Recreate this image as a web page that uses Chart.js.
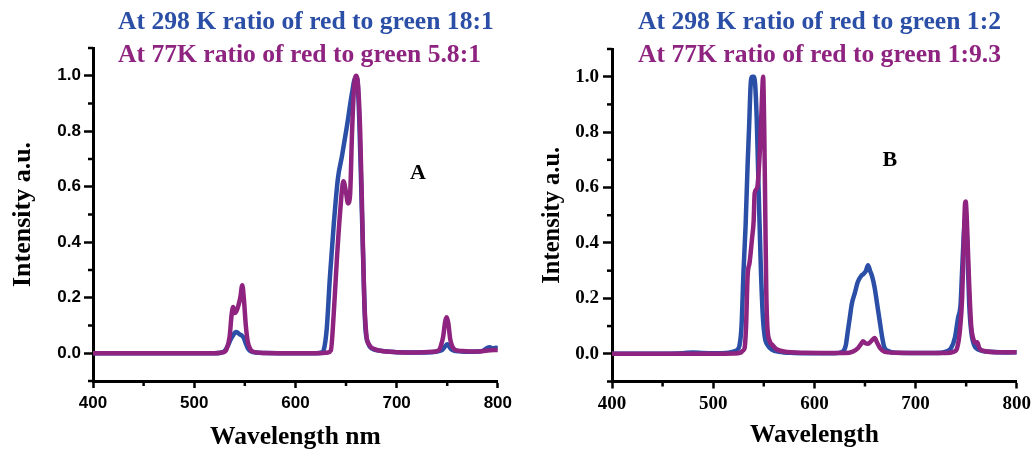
<!DOCTYPE html>
<html><head><meta charset="utf-8">
<script src="https://cdn.jsdelivr.net/npm/chart.js@4.4.1/dist/chart.umd.min.js"></script>
<style>
html,body{margin:0;padding:0;background:#fff;width:1035px;height:452px;overflow:hidden}
#wrapA{position:absolute;left:0;top:0;width:517px;height:452px}
#wrapB{position:absolute;left:517px;top:0;width:518px;height:452px}
</style></head><body>
<div id="wrapA"><canvas id="cA" width="517" height="452"></canvas></div>
<div id="wrapB"><canvas id="cB" width="518" height="452"></canvas></div>
<script>
// ---------- DATA ----------
const xMajorTicks = [400, 500, 600, 700, 800];
const xMinorTicks = [450, 550, 650, 750];
const yMajorTicks = [0, 0.2, 0.4, 0.6, 0.8, 1.0];
const yMinorTicks = [-0.1, 0.1, 0.3, 0.5, 0.7, 0.9, 1.1];

const titleA298 = "At 298 K ratio of red to green 18:1";
const titleA77  = "At 77K ratio of red to green 5.8:1";
const titleB298 = "At 298 K ratio of red to green 1:2";
const titleB77  = "At 77K ratio of red to green 1:9.3";
const xTitleA = "Wavelength nm";
const xTitleB = "Wavelength";
const yTitle = "Intensity a.u.";

// Panel A, 298 K (blue)
const wlA298 = [400,450,500,520,526,530,533,536,539,541,543,545,547,549,551,553,556,560,570,600,620,626,628,631,634,638,642,646,651,656,659,661,663,665,667,669,672,676,682,690,700,720,735,742,745,748,750,752,754,757,762,770,780,786,789,792,795,798,800];
const intA298 = [0,0,0,0,0.002,0.008,0.025,0.05,0.068,0.077,0.074,0.068,0.064,0.055,0.035,0.018,0.007,0.003,0.001,0,0,0.003,0.012,0.09,0.27,0.47,0.63,0.71,0.82,0.94,0.99,0.99,0.85,0.6,0.33,0.1,0.035,0.016,0.01,0.006,0.004,0.003,0.004,0.008,0.012,0.025,0.032,0.024,0.014,0.009,0.007,0.005,0.006,0.01,0.018,0.022,0.017,0.02,0.019];
// Panel A, 77 K (purple)
const wlA77 = [400,450,500,520,528,532,535,537,538.5,540,541.5,543.5,545.5,547.5,549,551,553,556,560,570,600,625,632,635,638,641,644,647.5,650,652,654,656,658,660,662,664,666,668,670,673,678,690,700,720,735,742,744,746,748,749.5,751,753,755,758,765,780,790,800];
const intA77 = [0,0,0,0,0.003,0.015,0.06,0.14,0.167,0.145,0.15,0.17,0.2,0.245,0.2,0.1,0.04,0.012,0.004,0.001,0,0,0.003,0.01,0.15,0.34,0.5,0.62,0.58,0.54,0.57,0.8,0.96,1.0,0.96,0.8,0.5,0.2,0.07,0.03,0.015,0.006,0.004,0.003,0.005,0.012,0.03,0.06,0.115,0.13,0.11,0.05,0.025,0.012,0.008,0.006,0.01,0.012];
// Panel B, 298 K (blue)
const wlB298 = [400,440,470,480,490,500,515,520,524,526,528,530,532,534,535.5,537,538.5,540,541.5,543,545,547,549,551,554,558,565,580,600,620,628,631,633,635,637,640,643,646,649,651,653,655,657,659.5,662,664.5,667,669,673,680,700,720,730,735,739,742,744.5,746,748,749.5,751,753,755,758,762,770,790,800];
const intB298 = [0,0,0.002,0.005,0.003,0.002,0.004,0.008,0.015,0.03,0.1,0.3,0.46,0.68,0.82,0.97,1.0,1.0,0.97,0.85,0.58,0.32,0.14,0.06,0.03,0.015,0.007,0.003,0.002,0.002,0.008,0.03,0.08,0.13,0.18,0.22,0.26,0.28,0.29,0.3,0.32,0.3,0.28,0.24,0.18,0.12,0.06,0.025,0.01,0.004,0.003,0.003,0.008,0.02,0.06,0.13,0.18,0.3,0.45,0.5,0.4,0.18,0.08,0.03,0.015,0.008,0.005,0.006];
// Panel B, 77 K (purple)
const wlB77 = [400,500,520,527,529,531,532.5,534,536,538.5,540,541,543.5,546.5,548.5,549.3,550.5,551.5,552.5,553.5,556,559,562,570,590,630,638,643,646,648,650.5,653,656,659.5,662,665,669,680,730,738,741,744,746,747.5,748.7,749.5,750.5,751.5,753,755,757,759,761,763,768,780,800];
const intB77 = [0,0,0.001,0.004,0.01,0.02,0.1,0.28,0.33,0.42,0.48,0.58,0.6,0.76,0.95,1.0,0.8,0.5,0.22,0.1,0.045,0.03,0.018,0.008,0.004,0.003,0.008,0.02,0.035,0.045,0.038,0.036,0.045,0.057,0.04,0.02,0.008,0.004,0.003,0.008,0.02,0.09,0.2,0.38,0.53,0.55,0.5,0.4,0.25,0.1,0.055,0.04,0.042,0.02,0.01,0.006,0.006];

// ---------- STYLE ----------
const BLUE = '#2b4fa6', PURPLE = '#8e2380';
const SERIF = '"Liberation Serif", "Times New Roman", serif';
const SANS = '"Liberation Sans", Arial, sans-serif';

const pts = (xs, ys) => xs.map((x, i) => ({x: x, y: ys[i]}));

const decor = {
  id: 'decor',
  afterDraw(chart, args, o) {
    const ctx = chart.ctx, xs = chart.scales.x, ys = chart.scales.y, ca = chart.chartArea;
    ctx.save();
    ctx.strokeStyle = '#000'; ctx.lineWidth = 2.5; ctx.lineCap = 'butt';
    xMinorTicks.forEach(v => {
      const p = xs.getPixelForValue(v);
      ctx.beginPath(); ctx.moveTo(p, ca.bottom); ctx.lineTo(p, ca.bottom + o.minorX); ctx.stroke();
    });
    yMinorTicks.forEach(v => {
      const p = ys.getPixelForValue(v);
      ctx.beginPath(); ctx.moveTo(ca.left, p); ctx.lineTo(ca.left - o.minorY, p); ctx.stroke();
    });
    ctx.textBaseline = 'middle'; ctx.textAlign = 'left';
    ctx.font = 'bold 25.6px ' + SERIF;
    ctx.fillStyle = BLUE; ctx.fillText(o.line1, o.tx, o.ty1);
    ctx.fillStyle = PURPLE; ctx.fillText(o.line2, o.tx, o.ty2);
    ctx.font = 'bold 22px ' + SERIF; ctx.fillStyle = '#000'; ctx.textAlign = 'center';
    ctx.fillText(o.panel, xs.getPixelForValue(o.px), ys.getPixelForValue(o.py));
    ctx.restore();
  }
};

function makeChart(id, cfg) {
  return new Chart(document.getElementById(id), {
    type: 'line',
    data: {
      datasets: [
        {data: pts(cfg.wl77, cfg.int77), borderColor: PURPLE, borderWidth: 4.5, pointRadius: 0, cubicInterpolationMode: 'monotone', fill: false},
        {data: pts(cfg.wl298, cfg.int298), borderColor: BLUE, borderWidth: 4.5, pointRadius: 0, cubicInterpolationMode: 'monotone', fill: false}
      ]
    },
    options: {
      responsive: false, animation: false, events: [],
      layout: {padding: {top: cfg.top, right: cfg.right, bottom: 0, left: 0}},
      plugins: {legend: {display: false}, tooltip: {enabled: false}, decor: cfg.decor},
      scales: {
        x: {
          type: 'linear', min: 400, max: 800,
          afterBuildTicks: s => { s.ticks = xMajorTicks.map(v => ({value: v})); },
          afterFit: s => { s.height = 452 - cfg.bottom; },
          grid: {display: true, drawOnChartArea: false, drawTicks: true, tickLength: 7, tickWidth: 2.5, tickColor: '#000'},
          border: {display: true, width: 3, color: '#000'},
          ticks: {color: '#000', padding: cfg.xPad, font: cfg.tickFont, maxRotation: 0, callback: v => String(v)},
          title: {display: true, text: cfg.xTitle, color: '#000', font: {family: SERIF, size: 25.5, weight: 'bold', lineHeight: 1}, padding: {top: 0, bottom: cfg.xTitlePad}}
        },
        y: {
          type: 'linear', min: -0.1, max: 1.1,
          afterBuildTicks: s => { s.ticks = yMajorTicks.map(v => ({value: v})); },
          afterFit: s => { s.width = cfg.left; },
          grid: {display: true, drawOnChartArea: false, drawTicks: true, tickLength: 9, tickWidth: 2.5, tickColor: '#000'},
          border: {display: true, width: 3, color: '#000'},
          ticks: {color: '#000', padding: cfg.yPad, font: cfg.tickFont, callback: v => v.toFixed(1)},
          title: {display: true, text: yTitle, color: '#000', font: {family: SERIF, size: cfg.yTitleSize, weight: 'bold', lineHeight: 1}, padding: {top: cfg.yTitlePad, bottom: 0}}
        }
      }
    },
    plugins: [decor]
  });
}

makeChart('cA', {
  wl298: wlA298, int298: intA298, wl77: wlA77, int77: intA77,
  top: 48, right: 17, left: 93, bottom: 381,
  tickFont: {family: SANS, size: 17, weight: 'bold'}, xPad: 5, yPad: 3,
  xTitle: xTitleA, xTitlePad: 2, yTitlePad: 10, yTitleSize: 26,
  decor: {line1: titleA298, line2: titleA77, tx: 118, ty1: 22, ty2: 55, panel: 'A', px: 721, py: 0.65, minorX: 5, minorY: 5}
});
makeChart('cB', {
  wl298: wlB298, int298: intB298, wl77: wlB77, int77: intB77,
  top: 49, right: 15, left: 95, bottom: 381.5,
  tickFont: {family: SERIF, size: 19, weight: 'bold'}, xPad: 4, yPad: 4,
  xTitle: xTitleB, xTitlePad: 4, yTitlePad: 23, yTitleSize: 24.5,
  decor: {line1: titleB298, line2: titleB77, tx: 121, ty1: 22, ty2: 55, panel: 'B', px: 674.5, py: 0.70, minorX: 5, minorY: 5}
});
</script>
</body></html>
